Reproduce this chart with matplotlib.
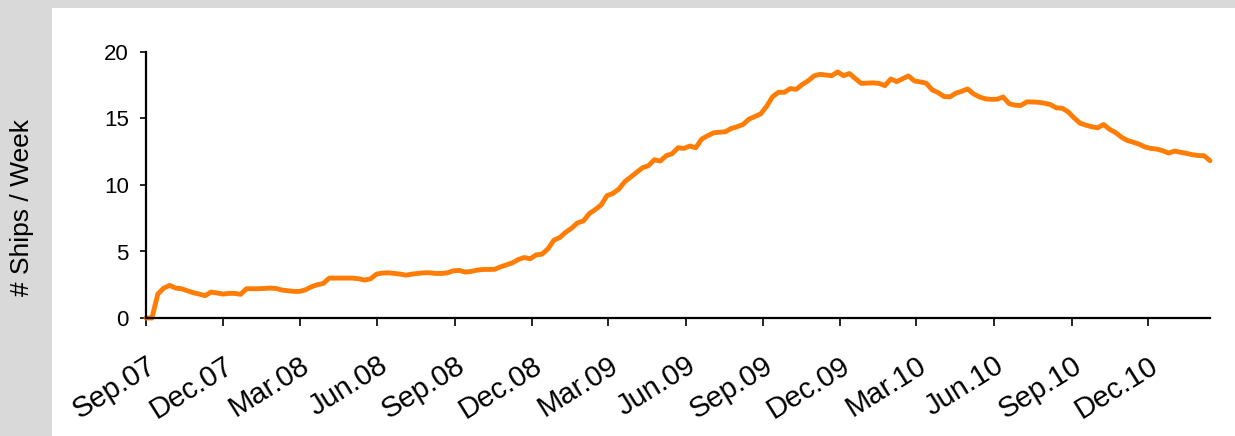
import matplotlib
matplotlib.use("Agg")
import matplotlib.pyplot as plt
from matplotlib.patches import Rectangle
import pandas as pd

plt.rcParams['font.family'] = ['Liberation Sans', 'DejaVu Sans']

# Weekly series, starting Sep 2007
start_date = "2007-09-01"
ships_per_week = [
    0.0, 0.0, 1.8, 2.25, 2.45, 2.25, 2.2, 2.05, 1.9, 1.8,
    1.68, 1.95, 1.88, 1.8, 1.85, 1.85, 1.78, 2.2, 2.2, 2.2,
    2.22, 2.25, 2.22, 2.1, 2.05, 2.0, 2.0, 2.12, 2.35, 2.5,
    2.6, 3.0, 3.0, 3.0, 3.0, 3.0, 2.95, 2.85, 2.95, 3.3,
    3.38, 3.4, 3.35, 3.3, 3.22, 3.3, 3.35, 3.4, 3.4, 3.35,
    3.35, 3.4, 3.55, 3.58, 3.45, 3.5, 3.6, 3.65, 3.65, 3.66,
    3.85, 4.0, 4.15, 4.4, 4.55, 4.45, 4.75, 4.8, 5.2, 5.85,
    6.05, 6.45, 6.75, 7.15, 7.3, 7.85, 8.15, 8.5, 9.2, 9.37,
    9.7, 10.25, 10.6, 10.95, 11.3, 11.45, 11.9, 11.8, 12.2, 12.35,
    12.8, 12.75, 12.93, 12.8, 13.45, 13.7, 13.92, 13.97, 14.0, 14.25,
    14.38, 14.55, 14.95, 15.15, 15.35, 15.92, 16.64, 16.97, 16.97, 17.25,
    17.19, 17.55, 17.83, 18.2, 18.32, 18.27, 18.22, 18.5, 18.22, 18.38,
    18.0, 17.64, 17.66, 17.68, 17.64, 17.47, 17.97, 17.77, 17.99, 18.2,
    17.82, 17.75, 17.65, 17.15, 16.95, 16.65, 16.63, 16.9, 17.05, 17.22,
    16.85, 16.62, 16.48, 16.44, 16.45, 16.62, 16.12, 16.0, 15.98, 16.25,
    16.24, 16.22, 16.15, 16.05, 15.8, 15.77, 15.5, 15.05, 14.65, 14.5,
    14.38, 14.3, 14.55, 14.19, 13.95, 13.6, 13.35, 13.22, 13.07, 12.86,
    12.75, 12.7, 12.58, 12.4, 12.55, 12.46, 12.38, 12.28, 12.22, 12.2,
    11.83,
]
tick_dates = ["2007-09-01", "2007-12-01", "2008-03-01", "2008-06-01",
              "2008-09-01", "2008-12-01", "2009-03-01", "2009-06-01",
              "2009-09-01", "2009-12-01", "2010-03-01", "2010-06-01",
              "2010-09-01", "2010-12-01"]
tick_labels = ["Sep.07", "Dec.07", "Mar.08", "Jun.08", "Sep.08", "Dec.08",
               "Mar.09", "Jun.09", "Sep.09", "Dec.09", "Mar.10", "Jun.10",
               "Sep.10", "Dec.10"]
y_ticks = [0, 5, 10, 15, 20]
y_label = "# Ships / Week"

dates = pd.date_range(start_date, periods=len(ships_per_week), freq="7D")

W, H = 1235, 436
fig = plt.figure(figsize=(W / 100, H / 100), dpi=100)
fig.patch.set_facecolor("#d9d9d9")
fig.patches.append(Rectangle((52 / W, 0), 1 - 52 / W, (H - 8) / H,
                             transform=fig.transFigure, facecolor="white",
                             edgecolor="none", zorder=-5))

ax = fig.add_axes([146 / W, (H - 318) / H, (1210 - 146) / W, (318 - 52) / H])
ax.set_zorder(2)
ax.set_facecolor("none")
ax.plot(dates, ships_per_week, color="#ff7d05", lw=3.5, solid_joinstyle="round",
        solid_capstyle="round", clip_on=False)

ax.set_xlim(dates[0], dates[-1])
ax.set_ylim(0, 20)
ax.set_yticks(y_ticks)
ax.set_xticks(pd.to_datetime(tick_dates))
ax.set_xticklabels(tick_labels)

for s in ["top", "right"]:
    ax.spines[s].set_visible(False)
for s in ["left", "bottom"]:
    ax.spines[s].set_linewidth(1.6)
    ax.spines[s].set_color("black")

ax.tick_params(axis="y", direction="out", length=4.5, width=1.2, pad=8,
               labelsize=16, colors="black")
ax.tick_params(axis="x", direction="out", length=6, width=1.2, pad=18,
               labelsize=21, colors="black")
for lbl in ax.get_xticklabels():
    lbl.set_rotation(32)
    lbl.set_ha("right")
    lbl.set_va("top")
    lbl.set_rotation_mode("anchor")

fig.text(22 / W, 1 - 207 / H, y_label, rotation=90, ha="center", va="center",
         fontsize=19)

fig.savefig("out.png", dpi=100, facecolor=fig.get_facecolor())
